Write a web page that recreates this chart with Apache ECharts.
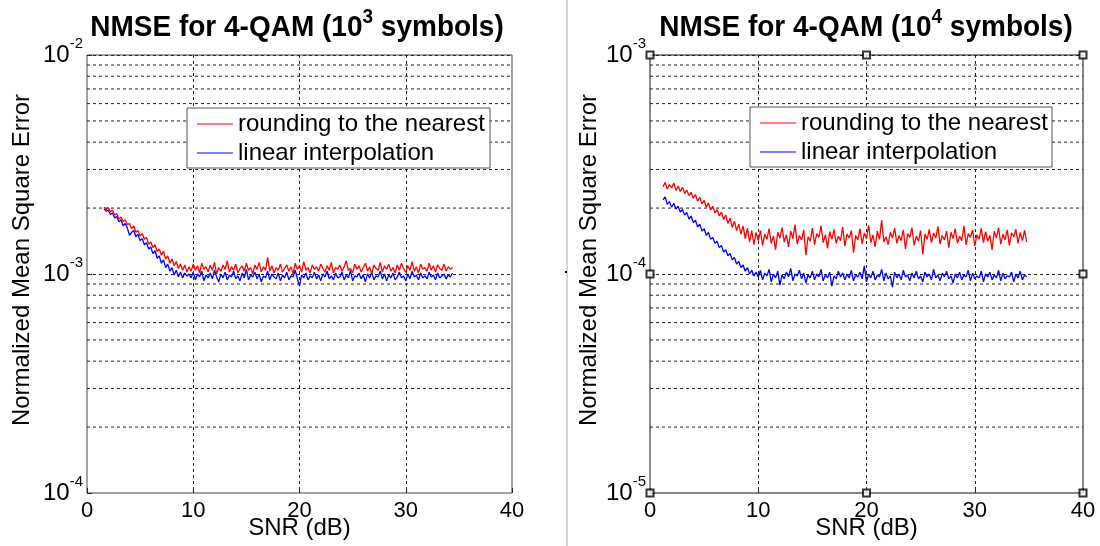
<!DOCTYPE html>
<html>
<head>
<meta charset="utf-8">
<script src="https://cdn.jsdelivr.net/npm/echarts@6/dist/echarts.min.js"></script>
<style>
html, body { margin: 0; padding: 0; background: #fff; }
#main { width: 1100px; height: 546px; }
</style>
</head>
<body>
<div id="main"></div>
<script>
// SNR sweep in dB: first point and step of each run
const snrLeftStart = 1.6;
const snrRightStart = 1.2;
const snrStep = 0.2;

const seriesNames = ['rounding to the nearest', 'linear interpolation'];
const seriesColors = ['#ff0000', '#0000ff'];
const xTicks = [0, 10, 20, 30, 40];
const yRangeLeft = [1e-4, 1e-2];
const yRangeRight = [1e-5, 1e-3];
const minorMantissa = [2, 3, 4, 5, 6, 7, 8, 9];

// NMSE, 10^3 symbols, in units of 1e-3
const unitLeft = 1e-3;
const roundLeft = [
  2.02,1.97,2.01,1.92,1.96,1.86,1.89,1.78,1.82,1.74,
  1.77,1.68,1.70,1.61,1.66,1.55,1.58,1.49,1.53,1.44,
  1.47,1.37,1.40,1.32,1.36,1.27,1.30,1.22,1.27,1.17,
  1.21,1.12,1.17,1.09,1.14,1.06,1.11,1.04,1.10,1.02,
  1.08,
  1.03,1.11,1.04,1.09,1.01,1.12,1.05,1.08,1.02,1.10,
  1.04,1.13,1.00,1.07,1.03,1.10,1.05,1.15,1.02,1.08,
  1.04,1.11,1.01,1.06,1.09,1.03,1.12,1.04,1.07,1.00,
  1.10,1.05,1.13,1.02,1.08,1.04,1.19,1.03,1.09,1.01,
  1.07,1.04,1.11,1.02,1.06,1.10,1.03,1.08,1.00,1.12,
  1.05,1.09,1.02,1.14,1.04,1.07,1.01,1.10,1.05,1.08,
  1.03,1.11,1.06,1.02,1.09,1.04,1.13,1.01,1.07,1.05,
  1.10,1.03,1.08,1.15,1.04,1.06,1.01,1.11,1.05,1.09,
  1.02,1.07,1.12,1.03,1.08,1.00,1.10,1.06,1.04,1.13,
  1.02,1.09,1.05,1.11,1.03,1.07,1.01,1.10,1.04,1.12,
  1.06,1.02,1.09,1.04,1.14,1.03,1.08,1.01,1.11,1.05,
  1.07,1.03,1.12,1.04,1.09,1.02,1.10,1.06,1.04,1.11,
  1.03,1.08,1.05,1.07
];
const linearLeft = [
  1.99,1.93,1.96,1.87,1.90,1.80,1.83,1.73,1.77,1.66,
  1.70,1.62,1.50,1.55,1.58,1.48,1.52,1.42,1.45,1.36,
  1.39,1.30,1.33,1.24,1.28,1.18,1.21,1.12,1.16,1.07,
  1.11,1.03,1.07,0.99,1.04,0.97,1.02,0.96,1.01,0.98,
  1.00,
  0.96,1.02,0.94,1.00,0.97,1.03,0.93,0.99,0.96,1.01,
  0.95,1.04,0.97,0.92,1.00,0.96,1.02,0.94,0.99,0.97,
  1.03,0.95,0.98,0.93,1.01,0.96,1.05,0.94,0.99,0.97,
  1.02,0.95,1.00,0.92,0.98,0.96,1.03,0.94,1.00,0.97,
  0.95,1.01,0.93,0.99,0.96,1.02,0.94,0.98,0.97,1.04,
  0.95,0.88,0.99,0.96,1.01,0.94,0.98,0.96,1.02,0.95,
  0.99,0.93,1.00,0.97,1.03,0.95,0.98,0.94,1.01,0.96,
  0.97,1.02,0.94,0.99,0.96,1.04,0.93,0.98,0.97,1.01,
  0.95,0.99,0.92,1.00,0.96,1.02,0.94,0.98,0.97,1.03,
  0.95,1.00,0.93,0.99,0.96,1.01,0.94,0.97,1.02,0.96,
  0.98,0.93,1.00,0.95,1.03,0.97,0.99,0.94,1.01,0.96,
  0.98,0.95,1.02,0.97,0.99,0.94,1.01,0.96,0.98,1.00,
  0.95,0.99,0.97,1.01
];

// NMSE, 10^4 symbols, in units of 1e-4
const unitRight = 1e-4;
const roundRight = [
  2.50,2.62,2.44,2.56,2.47,2.60,2.41,2.52,2.38,2.49,
  2.33,2.42,2.28,2.36,2.22,2.31,2.15,2.24,2.09,2.17,
  2.02,2.11,1.96,2.04,1.90,1.97,1.84,1.92,1.77,1.86,
  1.70,1.80,1.63,1.74,1.58,1.69,1.52,1.66,1.45,1.62,
  1.40,1.58,1.36,1.55,
  1.42,1.58,1.35,1.52,1.44,1.61,1.38,1.49,1.29,1.55,
  1.46,1.63,1.40,1.51,1.33,1.57,1.45,1.68,1.37,1.50,
  1.43,1.59,1.22,1.48,1.41,1.62,1.36,1.53,1.47,1.66,
  1.39,1.51,1.31,1.56,1.44,1.60,1.38,1.49,1.42,1.64,
  1.34,1.52,1.46,1.58,1.25,1.50,1.43,1.61,1.37,1.54,
  1.45,1.67,1.39,1.51,1.33,1.57,1.44,1.76,1.40,1.48,
  1.36,1.55,1.46,1.62,1.38,1.50,1.42,1.59,1.30,1.53,
  1.47,1.63,1.35,1.49,1.41,1.58,1.23,1.52,1.44,1.60,
  1.39,1.54,1.46,1.65,1.37,1.50,1.43,1.57,1.32,1.55,
  1.45,1.61,1.38,1.49,1.42,1.66,1.36,1.53,1.47,1.59,
  1.34,1.51,1.44,1.62,1.39,1.56,1.41,1.50,1.29,1.57,
  1.46,1.63,1.37,1.52,1.43,1.59,1.35,1.54,1.48,1.60,
  1.38,1.55,1.42,1.58,1.40
];
const linearRight = [
  2.18,2.25,2.08,2.14,2.02,2.10,1.98,2.04,1.92,1.97,
  1.86,1.91,1.78,1.84,1.72,1.76,1.64,1.69,1.57,1.61,
  1.50,1.55,1.44,1.47,1.38,1.41,1.32,1.35,1.26,1.29,
  1.21,1.24,1.16,1.19,1.11,1.14,1.07,1.10,1.03,1.07,
  1.00,1.04,0.98,1.02,
  0.97,1.04,0.94,1.01,0.98,1.05,0.92,1.00,0.96,1.03,
  0.89,0.99,0.95,1.02,0.97,1.06,0.93,1.00,0.98,1.04,
  0.95,1.01,0.91,0.99,0.96,1.03,0.94,1.00,0.97,1.05,
  0.93,0.99,0.96,1.02,0.88,0.98,0.95,1.03,0.97,1.01,
  0.94,1.00,0.96,1.04,0.93,0.99,0.97,1.02,0.95,1.09,
  0.92,1.00,0.96,1.03,0.94,0.99,0.97,1.05,0.93,1.01,
  0.95,0.98,0.87,1.02,0.96,1.00,0.94,1.04,0.97,0.99,
  0.93,1.01,0.96,1.03,0.95,0.98,0.92,1.02,0.97,1.00,
  0.94,1.05,0.96,0.99,0.93,1.01,0.97,1.03,0.95,0.98,
  0.91,1.00,0.96,1.02,0.94,0.99,0.97,1.04,0.93,1.01,
  0.95,0.98,0.96,1.03,0.92,1.00,0.97,1.02,0.94,0.99,
  0.96,1.04,0.93,1.01,0.95,0.98,0.97,1.02,0.92,1.00,
  0.96,1.03,0.94,0.99,0.97
];

// Axes-selection handles shown on the right panel
const handlesRight = [
  [0, 1e-3], [20, 1e-3], [40, 1e-3],
  [0, 1e-4], [40, 1e-4],
  [0, 1e-5], [20, 1e-5], [40, 1e-5]
];

const FONT = "'Liberation Sans', Arial, sans-serif";
const KEY_Z = 60;

function toPairs(values, start, unit) {
  return values.map((v, i) => [+(start + snrStep * i).toFixed(2), v * unit]);
}

const gridDash = { color: '#222', width: 1, type: [3, 3] };

// Minor log grid lines (2..9 in every decade), drawn across the full x range
function minorGridSeries(idx, range) {
  const out = [];
  for (let d = range[0]; d < range[1] * 0.999; d *= 10) {
    minorMantissa.forEach(m => {
      const v = m * d;
      out.push({
        type: 'line', xAxisIndex: idx, yAxisIndex: idx, silent: true, z: 1,
        symbol: 'none', animation: false, lineStyle: gridDash,
        emphasis: { disabled: true }, tooltip: { show: false },
        data: [[xTicks[0], v], [xTicks[xTicks.length - 1], v]]
      });
    });
  }
  return out;
}

function xAxisFor(idx) {
  return {
    type: 'value', gridIndex: idx,
    min: xTicks[0], max: xTicks[xTicks.length - 1], interval: 10,
    axisLine: { show: false },
    axisTick: { show: true, inside: true, length: 5, lineStyle: { color: '#222' } },
    axisLabel: { fontSize: 22, color: '#000', fontFamily: FONT, margin: 7 },
    splitLine: { show: true, showMinLine: false, showMaxLine: false, lineStyle: gridDash }
  };
}

function yAxisFor(idx, range) {
  return {
    type: 'log', gridIndex: idx, logBase: 10,
    min: range[0], max: range[1],
    axisLine: { show: false },
    axisTick: { show: true, inside: true, length: 5, lineStyle: { color: '#222' } },
    axisLabel: {
      margin: 4,
      formatter: v => '{b|10}{s|' + Math.round(Math.log10(v)) + '}',
      rich: {
        b: { fontSize: 24, color: '#000', fontFamily: FONT },
        s: { fontSize: 15, color: '#000', fontFamily: FONT, padding: [0, 0, 22, 0] }
      }
    },
    splitLine: { show: true, showMinLine: false, showMaxLine: false, lineStyle: gridDash }
  };
}

function curve(k, idx, data, z) {
  return {
    name: seriesNames[k], type: 'line', xAxisIndex: idx, yAxisIndex: idx,
    data, symbol: 'none', showSymbol: false, z,
    lineStyle: { color: seriesColors[k], width: 1.3 }, itemStyle: { color: seriesColors[k] },
    animation: false
  };
}

// Boxed key: a short coloured line and the label for each curve
function legendBox(left, top, width) {
  const rowH = 29, padTop = 16;
  const children = [{
    type: 'rect', z: KEY_Z, shape: { x: 0, y: 0, width, height: 60 },
    style: { fill: '#fff', stroke: '#555', lineWidth: 1 }
  }];
  seriesNames.forEach((name, k) => {
    const cy = padTop + rowH * k;
    children.push({
      type: 'line', z: KEY_Z + 1, shape: { x1: 10, y1: cy, x2: 46, y2: cy },
      style: { stroke: seriesColors[k], lineWidth: 1.2 }
    });
    children.push({
      type: 'text', z: KEY_Z + 1, x: 51, y: cy,
      style: { text: name, textAlign: 'left', textVerticalAlign: 'middle', fontSize: 24, fill: '#000', fontFamily: FONT }
    });
  });
  return { type: 'group', x: left, y: top, children };
}

function titleText(cx, sup) {
  return {
    type: 'text', x: cx, y: 28, scaleY: 1.08,
    style: {
      text: '{t|NMSE for 4-QAM (10}{u|' + sup + '}{t| symbols)}',
      textAlign: 'center', textVerticalAlign: 'middle',
      rich: {
        t: { fontSize: 28, fontWeight: 'bold', fill: '#000', fontFamily: FONT },
        u: { fontSize: 19, fontWeight: 'bold', fill: '#000', fontFamily: FONT, padding: [0, 0, 20, 0] }
      }
    }
  };
}

function yName(cx) {
  return {
    type: 'text', x: cx, y: 260, rotation: Math.PI / 2,
    style: {
      text: 'Normalized Mean Square Error',
      textAlign: 'center', textVerticalAlign: 'middle',
      fontSize: 24, fill: '#000', fontFamily: FONT
    }
  };
}

function xName(cx) {
  return {
    type: 'text', x: cx, y: 528,
    style: {
      text: 'SNR (dB)', textAlign: 'center', textVerticalAlign: 'middle',
      fontSize: 24, fill: '#000', fontFamily: FONT
    }
  };
}

const chart = echarts.init(document.getElementById('main'), null, { renderer: 'canvas' });

chart.setOption({
  backgroundColor: '#fff',
  animation: false,
  grid: [
    { left: 87, top: 55, width: 425, height: 438, show: true, borderColor: '#444', borderWidth: 1, backgroundColor: 'transparent', outerBoundsMode: 'none' },
    { left: 650, top: 55, width: 433, height: 438, show: true, borderColor: '#111', borderWidth: 1, backgroundColor: 'transparent', outerBoundsMode: 'none' }
  ],
  xAxis: [xAxisFor(0), xAxisFor(1)],
  yAxis: [yAxisFor(0, yRangeLeft), yAxisFor(1, yRangeRight)],
  series: [
    ...minorGridSeries(0, yRangeLeft),
    ...minorGridSeries(1, yRangeRight),
    curve(0, 0, toPairs(roundLeft, snrLeftStart, unitLeft), 3),
    curve(1, 0, toPairs(linearLeft, snrLeftStart, unitLeft), 2),
    curve(0, 1, toPairs(roundRight, snrRightStart, unitRight), 3),
    curve(1, 1, toPairs(linearRight, snrRightStart, unitRight), 2),
    {
      type: 'scatter', xAxisIndex: 1, yAxisIndex: 1, data: handlesRight,
      symbol: 'rect', symbolSize: 7, clip: false, silent: true, z: 10,
      itemStyle: { color: '#fff', borderColor: '#000', borderWidth: 2 }
    }
  ],
  graphic: [
    legendBox(187, 108, 303),
    legendBox(750, 107, 302),
    titleText(297, '3'),
    titleText(866, '4'),
    yName(22),
    yName(589),
    xName(299.5),
    xName(866.5),
    { type: 'line', shape: { x1: 567, y1: 0, x2: 567, y2: 546 }, style: { stroke: '#c8c8c8', lineWidth: 1.5 } },
    { type: 'rect', shape: { x: 565, y: 271, width: 2, height: 2 }, style: { fill: '#000' } }
  ]
});
</script>
</body>
</html>
